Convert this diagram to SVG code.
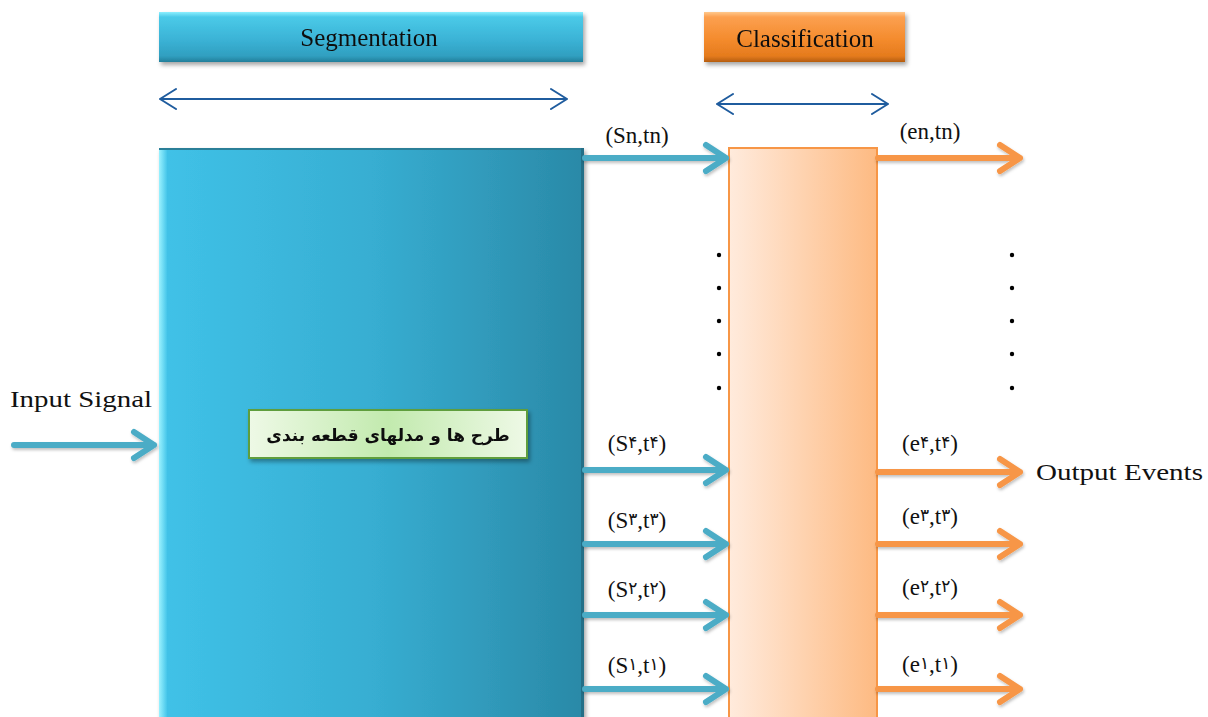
<svg xmlns="http://www.w3.org/2000/svg" width="1208" height="717" viewBox="0 0 1208 717">
<style>
.lbl{font-family:"Liberation Serif","DejaVu Serif",serif;font-size:23px;fill:#111}
.lbl .d{font-family:"DejaVu Sans","Noto Sans",sans-serif;font-size:17px}
.hdr{font-family:"Liberation Serif","DejaVu Serif",serif;font-size:25px;fill:#111;text-anchor:middle}
.blue{stroke:#4BACC6;stroke-width:6;fill:none;stroke-linecap:round;stroke-linejoin:round}
.orange{stroke:#F79646;stroke-width:6;fill:none;stroke-linecap:round;stroke-linejoin:round}
.dbl{stroke:#1F5C9E;stroke-width:2;fill:none;stroke-linecap:round;stroke-linejoin:round}
.dot{fill:#000}
</style>
<defs>
<filter id="sh" x="-10%" y="-10%" width="130%" height="140%"><feDropShadow dx="2" dy="3" stdDeviation="2" flood-color="#000" flood-opacity="0.35"/></filter>
<filter id="ash" x="-5%" y="-50%" width="110%" height="200%"><feDropShadow dx="1" dy="2" stdDeviation="1.5" flood-color="#000" flood-opacity="0.25"/></filter>
<linearGradient id="gSegH" x1="0" y1="0" x2="0" y2="1">
<stop offset="0" stop-color="#8CEFFF"/><stop offset="0.1" stop-color="#4ACAE8"/><stop offset="0.55" stop-color="#3BB3D6"/><stop offset="0.88" stop-color="#309FC0"/><stop offset="1" stop-color="#237E9A"/>
</linearGradient>
<linearGradient id="gClsH" x1="0" y1="0" x2="0" y2="1">
<stop offset="0" stop-color="#FFC88C"/><stop offset="0.1" stop-color="#FCA050"/><stop offset="0.55" stop-color="#F48B2D"/><stop offset="0.88" stop-color="#E57B1D"/><stop offset="1" stop-color="#B55D10"/>
</linearGradient>
<linearGradient id="gSeg" x1="0" y1="0" x2="1" y2="0">
<stop offset="0" stop-color="#40C2E8"/><stop offset="0.5" stop-color="#37AED2"/><stop offset="1" stop-color="#2A89A7"/>
</linearGradient>
<linearGradient id="gSegL" x1="0" y1="0" x2="1" y2="0">
<stop offset="0" stop-color="#9AF2FF"/><stop offset="1" stop-color="#45C6EA"/>
</linearGradient>
<linearGradient id="gCls" x1="0" y1="0" x2="1" y2="0">
<stop offset="0" stop-color="#FFEBDD"/><stop offset="1" stop-color="#FDBA82"/>
</linearGradient>
<linearGradient id="gGreen" x1="0" y1="0" x2="1" y2="0">
<stop offset="0" stop-color="#EEF9E6"/><stop offset="0.5" stop-color="#C2EAAE"/><stop offset="1" stop-color="#EEF9E6"/>
</linearGradient>
</defs>

<g id="segmentation-header" filter="url(#sh)">
<rect x="159" y="12" width="424" height="50" fill="url(#gSegH)"/>
<text class="hdr" x="369" y="46">Segmentation</text>
</g>
<g id="classification-header" filter="url(#sh)">
<rect x="704" y="12" width="201" height="50" fill="url(#gClsH)"/>
<text class="hdr" x="805" y="47">Classification</text>
</g>

<g id="segmentation-block">
<rect x="159" y="148" width="425" height="580" fill="url(#gSeg)" filter="url(#sh)"/>
<rect x="159" y="148" width="8" height="580" fill="url(#gSegL)"/>
<rect x="159" y="148" width="425" height="2" fill="#2A7F98"/>
<rect x="581" y="148" width="3" height="580" fill="#236F87"/>
</g>

<g id="models-box" filter="url(#sh)">
<rect x="249" y="410" width="278" height="48" fill="url(#gGreen)" stroke="#5E9E3C" stroke-width="2"/>
<text x="388" y="441" text-anchor="middle" font-family="'DejaVu Sans','Noto Sans',sans-serif" font-weight="bold" font-size="17" fill="#111">طرح ها و مدلهای قطعه بندی</text>
</g>

<g id="classification-block">
<rect x="729" y="148" width="148" height="580" fill="url(#gCls)" stroke="#F79646" stroke-width="2"/>
</g>

<g id="connectors">
<g class="dbl">
<path d="M160 99 H567 M176 89 L160 99 L176 109 M551 89 L567 99 L551 109"/>
<path d="M717 104 H888 M733 94 L717 104 L733 114 M872 94 L888 104 L872 114"/>
</g>
<g class="blue" filter="url(#ash)">
<path d="M14 445 H154 M134 432 L154 445 L134 458"/>
<path d="M585 158 H726 M706 145 L726 158 L706 171"/>
<path d="M585 470 H726 M706 457 L726 470 L706 483"/>
<path d="M585 544 H726 M706 531 L726 544 L706 557"/>
<path d="M585 615 H726 M706 602 L726 615 L706 628"/>
<path d="M585 689 H726 M706 676 L726 689 L706 702"/>
</g>
<g class="orange" filter="url(#ash)">
<path d="M878 158 H1020 M1000 145 L1020 158 L1000 171"/>
<path d="M878 472 H1020 M1000 459 L1020 472 L1000 485"/>
<path d="M878 544 H1020 M1000 531 L1020 544 L1000 557"/>
<path d="M878 615 H1020 M1000 602 L1020 615 L1000 628"/>
<path d="M878 689 H1020 M1000 676 L1020 689 L1000 702"/>
</g>
</g>

<g id="dots">
<circle class="dot" cx="719" cy="255" r="2.2"/><circle class="dot" cx="719" cy="288" r="2.2"/><circle class="dot" cx="719" cy="321" r="2.2"/><circle class="dot" cx="719" cy="354" r="2.2"/><circle class="dot" cx="719" cy="388" r="2.2"/>
<circle class="dot" cx="1012" cy="255" r="2.2"/><circle class="dot" cx="1012" cy="288" r="2.2"/><circle class="dot" cx="1012" cy="321" r="2.2"/><circle class="dot" cx="1012" cy="354" r="2.2"/><circle class="dot" cx="1012" cy="388" r="2.2"/>
</g>

<g id="labels">
<text class="lbl" x="10" y="407" font-size="24" textLength="142" lengthAdjust="spacingAndGlyphs">Input Signal</text>
<text class="lbl" x="1036" y="480" font-size="24" textLength="167" lengthAdjust="spacingAndGlyphs">Output Events</text>
<text class="lbl" x="637" y="143" text-anchor="middle">(Sn,tn)</text>
<text class="lbl" x="637" y="451" text-anchor="middle">(S<tspan class="d" dy="-3">۴</tspan><tspan dy="3">,t</tspan><tspan class="d" dy="-3">۴</tspan><tspan dy="3">)</tspan></text>
<text class="lbl" x="637" y="528" text-anchor="middle">(S<tspan class="d" dy="-3">۳</tspan><tspan dy="3">,t</tspan><tspan class="d" dy="-3">۳</tspan><tspan dy="3">)</tspan></text>
<text class="lbl" x="637" y="597" text-anchor="middle">(S<tspan class="d" dy="-3">۲</tspan><tspan dy="3">,t</tspan><tspan class="d" dy="-3">۲</tspan><tspan dy="3">)</tspan></text>
<text class="lbl" x="637" y="673" text-anchor="middle">(S<tspan class="d" dy="-3">۱</tspan><tspan dy="3">,t</tspan><tspan class="d" dy="-3">۱</tspan><tspan dy="3">)</tspan></text>
<text class="lbl" x="930" y="139" text-anchor="middle">(en,tn)</text>
<text class="lbl" x="930" y="451" text-anchor="middle">(e<tspan class="d" dy="-3">۴</tspan><tspan dy="3">,t</tspan><tspan class="d" dy="-3">۴</tspan><tspan dy="3">)</tspan></text>
<text class="lbl" x="930" y="524" text-anchor="middle">(e<tspan class="d" dy="-3">۳</tspan><tspan dy="3">,t</tspan><tspan class="d" dy="-3">۳</tspan><tspan dy="3">)</tspan></text>
<text class="lbl" x="930" y="595" text-anchor="middle">(e<tspan class="d" dy="-3">۲</tspan><tspan dy="3">,t</tspan><tspan class="d" dy="-3">۲</tspan><tspan dy="3">)</tspan></text>
<text class="lbl" x="930" y="672" text-anchor="middle">(e<tspan class="d" dy="-3">۱</tspan><tspan dy="3">,t</tspan><tspan class="d" dy="-3">۱</tspan><tspan dy="3">)</tspan></text>
</g>
</svg>
